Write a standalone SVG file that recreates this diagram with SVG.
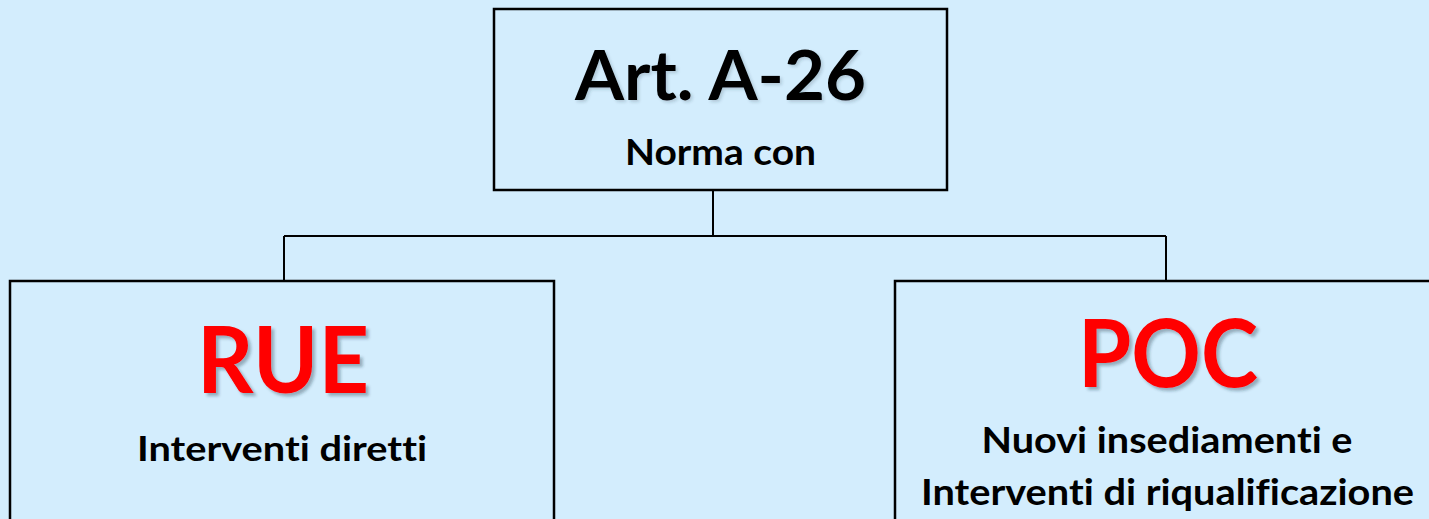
<svg xmlns="http://www.w3.org/2000/svg" width="1429" height="519" viewBox="0 0 1429 519">
<defs>
<style>
.box{fill:#D3EDFD;stroke:#000;stroke-width:2.5}
.t{font-family:Lato,"Open Sans","Liberation Sans",sans-serif;font-weight:700;text-anchor:middle;fill:#000;font-variant-ligatures:none;font-feature-settings:"liga" 0,"clig" 0}
.red{fill:#FF0000}
.conn{fill:none;stroke:#000;stroke-width:2}
</style>
<filter id="sh" x="-10%" y="-10%" width="130%" height="130%">
<feDropShadow dx="3" dy="3" stdDeviation="1.5" flood-color="#203040" flood-opacity="0.35"/>
</filter>
<filter id="sh2" x="-10%" y="-10%" width="130%" height="130%">
<feDropShadow dx="2" dy="2" stdDeviation="1.5" flood-color="#203040" flood-opacity="0.2"/>
</filter>
</defs>
<rect width="1429" height="519" fill="#D3EDFD"/>
<g id="connectors">
<path class="conn" d="M713,190 V236 M284,236 H1166 M284,236 V281 M1166,236 V281"/>
</g>
<g id="top">
<rect class="box" x="494" y="9" width="453" height="181"/>
<text class="t" x="720.5" y="100" font-size="69" textLength="291" lengthAdjust="spacingAndGlyphs" filter="url(#sh2)">Art. A-26</text>
<text class="t" x="720.5" y="165" font-size="37" textLength="191" lengthAdjust="spacingAndGlyphs">Norma con</text>
</g>
<g id="rue">
<rect class="box" x="10" y="281" width="544" height="260"/>
<text class="t red" x="283" y="393" font-size="92" textLength="172" lengthAdjust="spacingAndGlyphs" filter="url(#sh)">RUE</text>
<text class="t" x="282" y="461" font-size="35" textLength="290" lengthAdjust="spacingAndGlyphs">Interventi diretti</text>
</g>
<g id="poc">
<rect class="box" x="895" y="281" width="560" height="260"/>
<text class="t red" x="1168" y="387" font-size="93" textLength="180" lengthAdjust="spacingAndGlyphs" filter="url(#sh)">POC</text>
<text class="t" x="1167" y="453" font-size="36" textLength="371" lengthAdjust="spacingAndGlyphs">Nuovi insediamenti e</text>
<text class="t" x="1167.5" y="505" font-size="36" textLength="493" lengthAdjust="spacingAndGlyphs">Interventi di riqualificazione</text>
</g>
</svg>
